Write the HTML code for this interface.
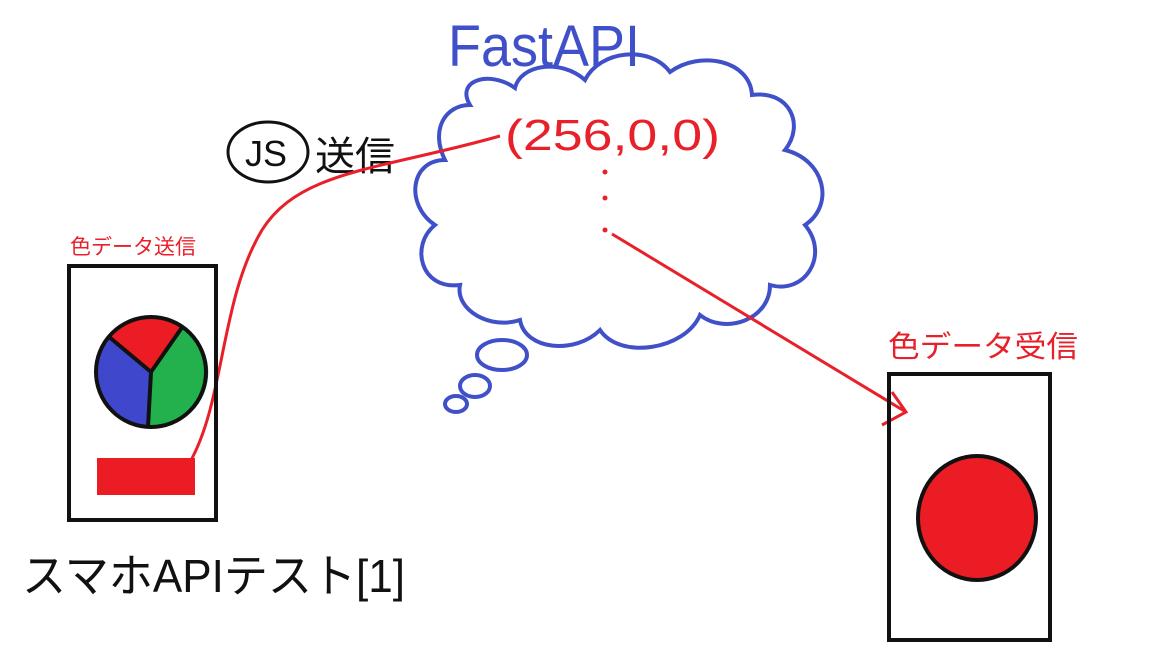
<!DOCTYPE html>
<html><head><meta charset="utf-8"><style>
html,body{margin:0;padding:0;background:#fff;}
svg{display:block;}
text{font-family:"Liberation Sans","Noto Sans CJK JP",sans-serif;}
</style></head><body>
<svg width="1152" height="648" viewBox="0 0 1152 648">
<rect width="1152" height="648" fill="#fff"/>
<text x="448" y="66" font-size="58" fill="#4050c8" textLength="192" lengthAdjust="spacingAndGlyphs">FastAPI</text>
<path fill="none" stroke="#4050c8" stroke-width="4"
 d="M470,105 C455,80 490,70 515,88 C520,65 560,58 585,80 C600,50 650,45 670,72 C700,50 750,60 752,95 C790,90 805,125 785,150 C825,160 835,205 805,225 C830,255 805,295 770,285 C770,320 725,335 700,315 C685,350 620,360 600,330 C575,355 525,350 520,320 C490,330 455,310 460,285 C420,290 410,245 435,225 C405,205 410,160 445,160 C430,130 445,105 470,105 Z"/>
<ellipse cx="502" cy="355" rx="25" ry="15" fill="none" stroke="#4050c8" stroke-width="4"/>
<ellipse cx="475" cy="386" rx="15" ry="11" fill="none" stroke="#4050c8" stroke-width="4"/>
<ellipse cx="456" cy="404" rx="11" ry="8" fill="none" stroke="#4050c8" stroke-width="4"/>
<text x="505" y="150" font-size="44" fill="#e8202a" textLength="215" lengthAdjust="spacingAndGlyphs">(256,0,0)</text>
<circle cx="605" cy="172" r="2.5" fill="#e8202a"/>
<circle cx="605" cy="198" r="2.5" fill="#e8202a"/>
<circle cx="605" cy="230" r="2.5" fill="#e8202a"/>
<path d="M612,234 L906,412 M882,425 L906,412 L892,392" fill="none" stroke="#e8202a" stroke-width="3"/>
<ellipse cx="268" cy="152" rx="40" ry="30" fill="none" stroke="#111" stroke-width="3"/>
<text x="245" y="166" font-size="36" fill="#111">JS</text>
<text x="315" y="170" font-size="40" fill="#111">送信</text>
<path d="M500,136 C380,170 300,170 262,230 C220,300 225,400 190,462" fill="none" stroke="#e8202a" stroke-width="3"/>
<text x="70" y="254" font-size="21" fill="#e8202a">色データ送信</text>
<rect x="69" y="266" width="147" height="254" fill="none" stroke="#111" stroke-width="4"/>
<g>
<path d="M151,372 L108,336 A55,55 0 0 1 183,326 Z" fill="#ec1c24"/>
<path d="M151,372 L183,326 A55,55 0 0 1 148,427 Z" fill="#22b14c"/>
<path d="M151,372 L148,427 A55,55 0 0 1 108,336 Z" fill="#3f48cc"/>
<circle cx="151" cy="372" r="55" fill="none" stroke="#111" stroke-width="4"/>
<path d="M108,336 L151,372 L183,326 M151,372 L148,427" stroke="#111" stroke-width="4" fill="none"/>
</g>
<rect x="97" y="458" width="98" height="37" fill="#ec1c24"/>
<text x="22" y="592" font-size="46" fill="#111" textLength="383" lengthAdjust="spacingAndGlyphs">スマホAPIテスト[1]</text>
<text x="888" y="357" font-size="30" fill="#e8202a" textLength="190" lengthAdjust="spacingAndGlyphs">色データ受信</text>
<rect x="889" y="374" width="161" height="266" fill="none" stroke="#111" stroke-width="4"/>
<ellipse cx="977" cy="518" rx="59" ry="62" fill="#ec1c24" stroke="#111" stroke-width="4"/>
</svg>
</body></html>
